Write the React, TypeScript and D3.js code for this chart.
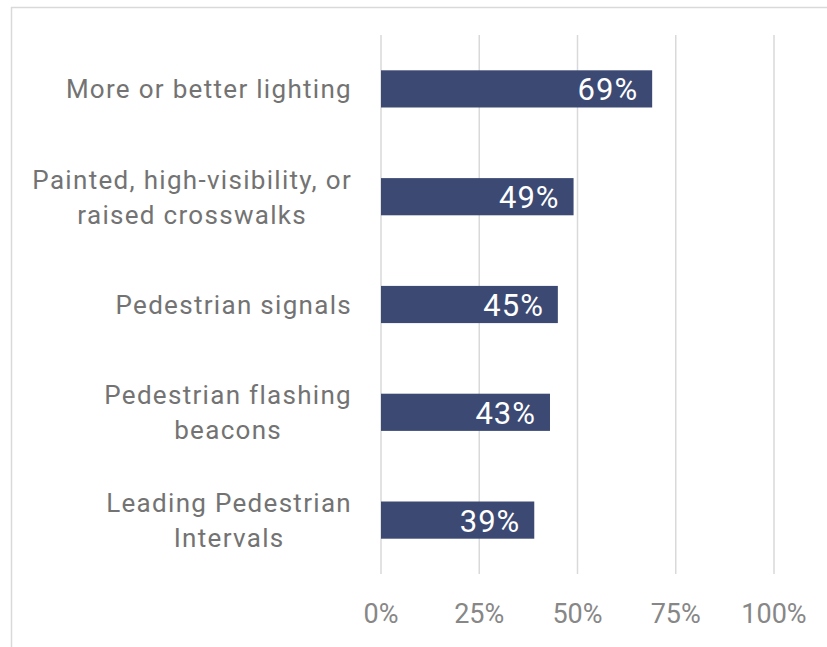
import { useEffect, useRef } from "react";
import * as d3 from "d3";

const categories = [
  "More or better lighting",
  "Painted, high-visibility, or raised crosswalks",
  "Pedestrian signals",
  "Pedestrian flashing beacons",
  "Leading Pedestrian Intervals",
];
const labelLines = [
  ["More or better lighting"],
  ["Painted, high-visibility, or", "raised crosswalks"],
  ["Pedestrian signals"],
  ["Pedestrian flashing", "beacons"],
  ["Leading Pedestrian", "Intervals"],
];
const values = [0.69, 0.49, 0.45, 0.43, 0.39];
const ticks = [0, 0.25, 0.5, 0.75, 1];

const W = 827;
const H = 647;
const FONT = "Roboto, 'DejaVu Sans', sans-serif";

export default function App() {
  const svgRef = useRef<SVGSVGElement>(null);

  useEffect(() => {
    if (!svgRef.current) return;
    const svg = d3.select(svgRef.current);
    svg.selectAll("*").remove();

    // frame
    svg.append("rect").attr("width", W).attr("height", H).attr("fill", "#fff");
    svg
      .append("path")
      .attr("d", `M11.5,${H} V7.5 H${W}`)
      .attr("fill", "none")
      .attr("stroke", "#d9d9d9")
      .attr("stroke-width", 1.5);

    const x = d3.scaleLinear().domain([0, 1]).range([381, 774]);
    const y = d3
      .scaleBand<string>()
      .domain(categories)
      .range([35, 574])
      .paddingInner(0.655)
      .paddingOuter(0.3275);

    // gridlines
    svg
      .append("g")
      .selectAll("line")
      .data(ticks)
      .join("line")
      .attr("x1", (d) => x(d))
      .attr("x2", (d) => x(d))
      .attr("y1", 35)
      .attr("y2", 574)
      .attr("stroke", "#d9d9d9")
      .attr("stroke-width", 1.5);

    // tick labels
    svg
      .append("g")
      .selectAll("text")
      .data(ticks)
      .join("text")
      .attr("x", (d) => x(d))
      .attr("y", 623)
      .attr("text-anchor", "middle")
      .style("font-family", FONT)
      .style("font-size", "27px")
      .attr("fill", "#878787")
      .text((d) => d3.format(".0%")(d));

    // bars
    svg
      .append("g")
      .selectAll("rect")
      .data(values)
      .join("rect")
      .attr("x", x(0))
      .attr("y", (_, i) => y(categories[i])!)
      .attr("width", (d) => x(d) - x(0))
      .attr("height", y.bandwidth())
      .attr("fill", "#3c4a73");

    // value labels
    svg
      .append("g")
      .selectAll("text")
      .data(values)
      .join("text")
      .attr("x", (d) => x(d) - 14)
      .attr("y", (_, i) => y(categories[i])! + y.bandwidth() / 2)
      .attr("dy", "0.37em")
      .attr("text-anchor", "end")
      .style("font-family", FONT)
      .style("font-size", "31px")
      .style("letter-spacing", "1px")
      .attr("fill", "#fff")
      .text((d) => d3.format(".0%")(d));

    // category labels: block right-aligned, lines centered within block
    const lineH = 35;
    const rightEdge = 352;
    categories.forEach((c, i) => {
      const lines = labelLines[i];
      const cy = y(c)! + y.bandwidth() / 2;
      const g = svg.append("g");
      const texts = g
        .selectAll("text")
        .data(lines)
        .join("text")
        .attr("y", (_, j) => cy + (j - (lines.length - 1) / 2) * lineH)
        .attr("dy", "0.36em")
        .attr("text-anchor", "middle")
        .style("font-family", FONT)
        .style("font-size", "26px")
        .style("letter-spacing", "1.3px")
        .attr("fill", "#737373")
        .text((d) => d);
      let maxW = 0;
      texts.each(function () {
        maxW = Math.max(maxW, (this as SVGTextElement).getComputedTextLength());
      });
      texts.attr("x", rightEdge - maxW / 2);
    });
  }, []);

  return (
    <div style={{ position: "absolute", left: 0, top: 0 }}>
      <svg ref={svgRef} width={W} height={H} style={{ display: "block" }} />
    </div>
  );
}
